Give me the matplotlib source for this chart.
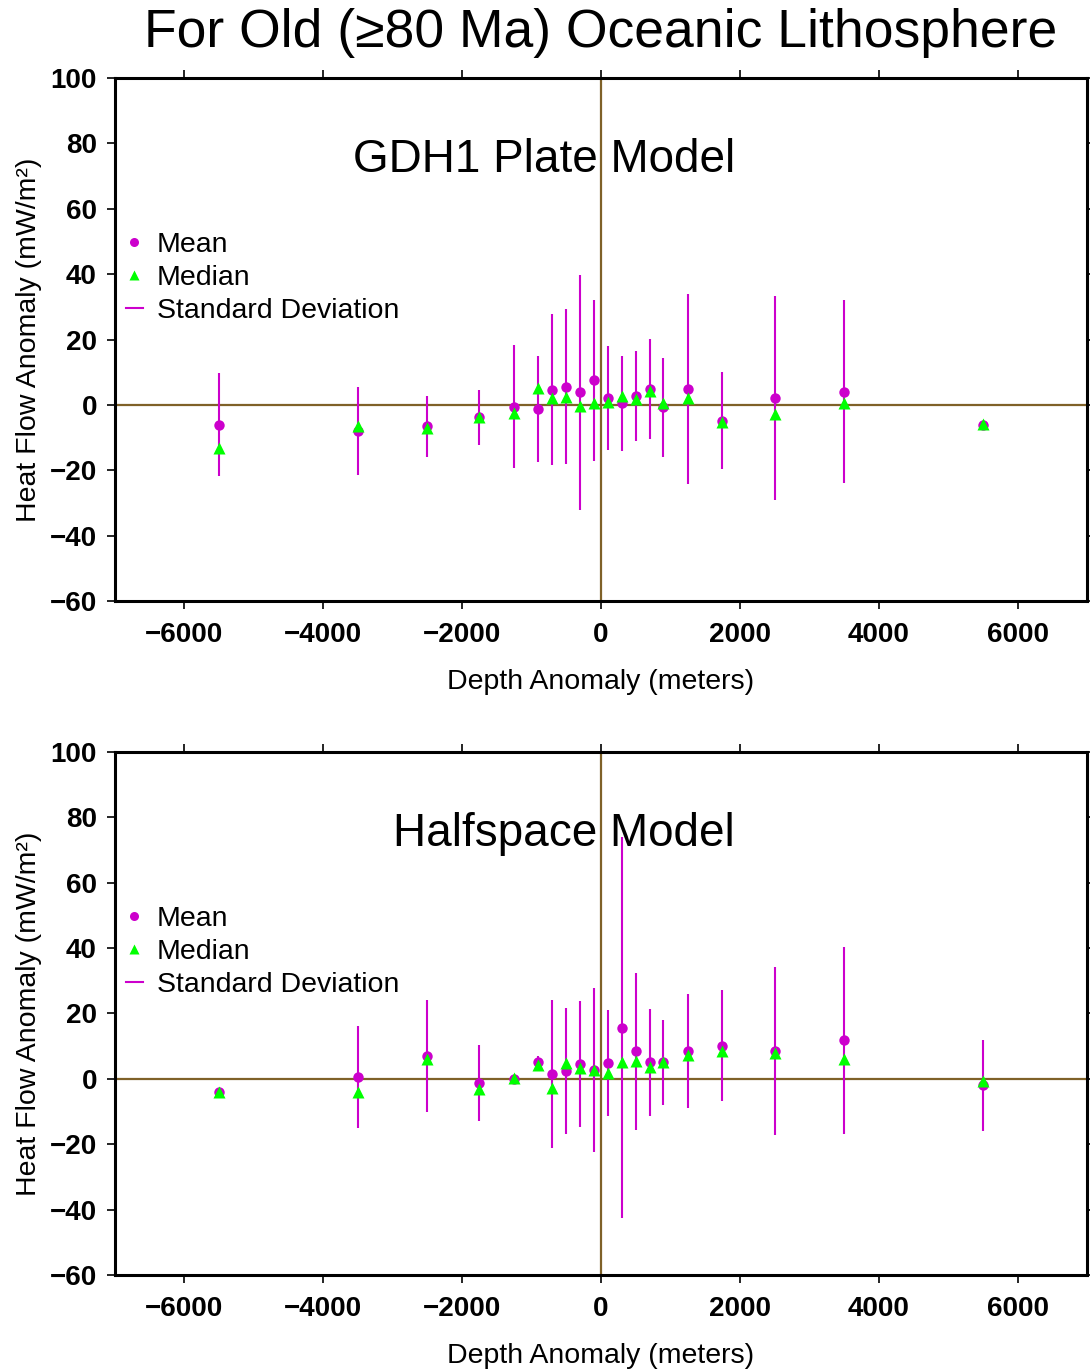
import numpy as np
import matplotlib
matplotlib.use('Agg')
from matplotlib import pyplot as plt
from matplotlib.lines import Line2D

plt.rcParams['font.family'] = ['Liberation Sans', 'DejaVu Sans']

# depth anomaly bins (meters)
depth = [-5500, -3500, -2500, -1750, -1250, -900, -700, -500, -300, -100,
         100, 300, 500, 700, 900, 1250, 1750, 2500, 3500, 5500]

# GDH1 plate model
gdh1_mean = [-6.1, -7.9, -6.5, -3.8, -0.5, -1.3, 4.7, 5.6, 3.8, 7.5,
             2.1, 0.5, 2.7, 4.9, -0.8, 4.8, -4.8, 2.1, 4.0, -6.2]
gdh1_median = [-13.3, -6.4, -7.1, -3.8, -2.5, 5.1, 2.0, 2.5, -0.3, 0.7,
               1.0, 2.8, 1.7, 4.3, 0.5, 2.0, -5.1, -2.8, 0.7, -5.8]
gdh1_std = [15.8, 13.5, 9.3, 8.4, 18.8, 16.3, 23.0, 23.7, 35.9, 24.6,
            15.9, 14.5, 13.8, 15.3, 15.0, 29.0, 14.8, 31.2, 28.0, 0]

# halfspace model
hs_mean = [-4.0, 0.6, 7.1, -1.2, 0.1, 5.0, 1.5, 2.4, 4.5, 2.7,
           4.9, 15.7, 8.4, 5.0, 5.0, 8.5, 10.1, 8.6, 11.8, -2.0]
hs_median = [-4.0, -3.9, 6.2, -3.2, 0.3, 4.1, -2.8, 4.8, 3.4, 2.8,
             1.9, 5.0, 5.5, 3.6, 5.1, 7.3, 8.6, 8.0, 6.2, -0.8]
hs_std = [0, 15.6, 17.1, 11.6, 0, 2.0, 22.7, 19.2, 19.2, 25.2,
          16.2, 58.2, 24.0, 16.4, 12.9, 17.4, 17.0, 25.7, 28.6, 13.9]

MAGENTA = '#cc00cc'
GREEN = '#00ff00'
BROWN = '#7f6128'


def draw_panel(ax, mean, median, std, name):
	ax.axhline(0, color=BROWN, lw=1.6, zorder=1)
	ax.axvline(0, color=BROWN, lw=1.6, zorder=1)
	ax.errorbar(depth, mean, yerr=std, fmt='none', ecolor=MAGENTA, elinewidth=1.5, capsize=0, zorder=2)
	ax.plot(depth, mean, 'o', color=MAGENTA, ms=7.5, mec='none', zorder=3)
	ax.plot(depth, median, '^', color=GREEN, ms=8.5, mec='none', zorder=4)
	ax.set_xlim(-7000, 7000)
	ax.set_ylim(-60, 100)
	ax.set_xticks(np.arange(-6000, 6001, 2000))
	ax.set_yticks(np.arange(-60, 101, 20))
	ax.tick_params(direction='out', length=6, width=1.2, labelsize=20, top=True, right=True)
	ax.tick_params(axis='x', pad=9)
	ax.tick_params(axis='y', pad=7)
	for lab in ax.get_xticklabels() + ax.get_yticklabels():
		lab.set_fontweight('bold')
	for sp in ax.spines.values():
		sp.set_linewidth(2.2)
	ax.set_xlabel('Depth Anomaly (meters)', fontsize=20.5, labelpad=15)
	ax.set_ylabel('Heat Flow Anomaly (mW/m\u00b2)', fontsize=20.5)
	ax.yaxis.set_label_coords(-0.075, 0.5)
	ax.text(0.638, 0.82, name, transform=ax.transAxes, ha='right', va='baseline', fontsize=33)
	handles = [
		Line2D([], [], marker='o', color=MAGENTA, ls='none', ms=6.5, mec='none', label='Mean'),
		Line2D([], [], marker='^', color=GREEN, ls='none', ms=7, mec='none', label='Median'),
		Line2D([], [], color=MAGENTA, lw=1.5, label='Standard Deviation'),
	]
	ax.legend(handles=handles, loc='upper left', bbox_to_anchor=(0.011, 0.705), frameon=False,
	          fontsize=20.5, handlelength=0.6, handletextpad=0.5, labelspacing=0.24, borderpad=0,
	          borderaxespad=0)


fig = plt.figure(figsize=(10.9, 13.69), dpi=100)
ax1 = fig.add_axes([0.1055, 0.561, 0.8917, 0.382])
ax2 = fig.add_axes([0.1055, 0.0687, 0.8917, 0.382])
draw_panel(ax1, gdh1_mean, gdh1_median, gdh1_std, 'GDH1 Plate Model')
draw_panel(ax2, hs_mean, hs_median, hs_std, 'Halfspace Model')

fig.text(0.551, 1 - 33 / 1369, 'For Old (\u226580 Ma) Oceanic Lithosphere', ha='center', va='center', fontsize=38.5)

plt.savefig('out.png', dpi=100)
plt.close()
